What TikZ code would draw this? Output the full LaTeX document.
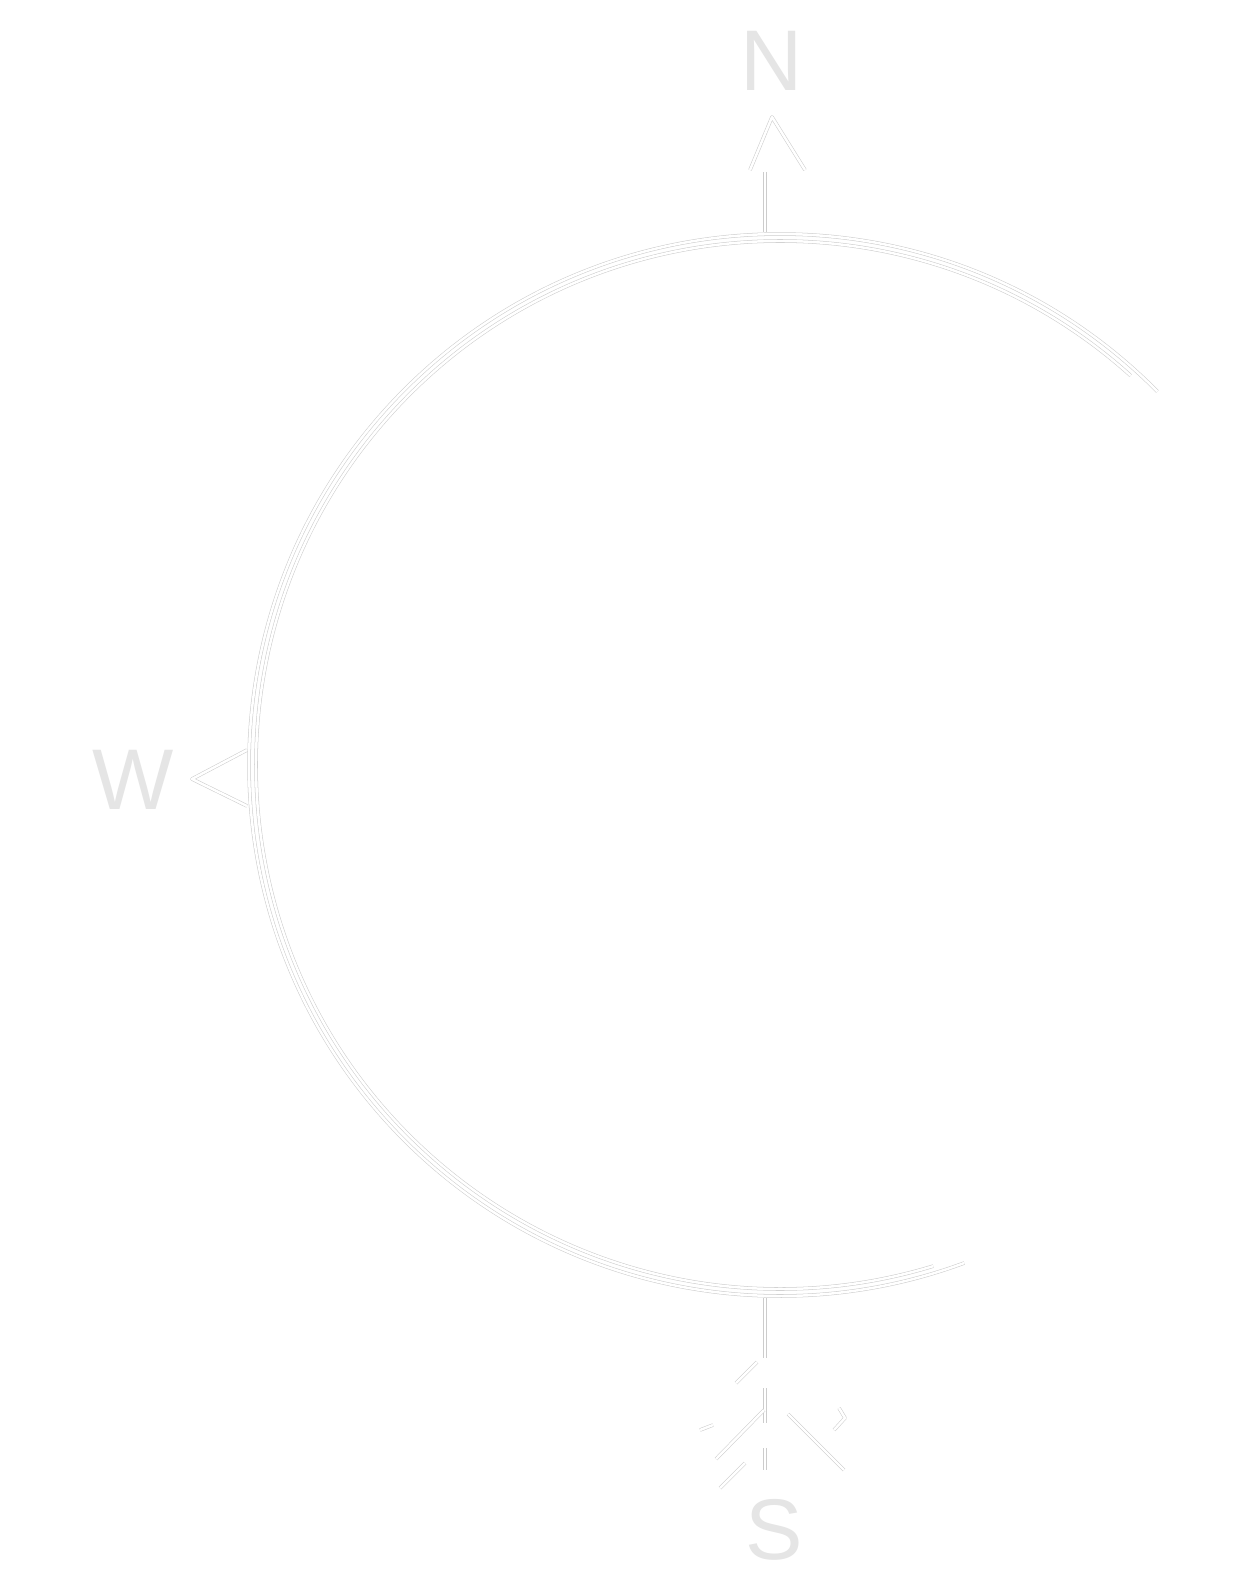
\documentclass[tikz,border=0pt]{standalone}
\usepackage{fontspec}
\setmainfont{Liberation Sans}
\begin{document}
\begin{tikzpicture}[x=0.02cm,y=-0.02cm,
  ghost/.style={draw=black!20, line width=0.3pt, double=white, double distance=1.4pt, line join=round},
  letter/.style={text=black!10, inner sep=0pt, font=\fontsize{49}{49}\selectfont}]
\fill[white] (0,0) rectangle (1252,1594);
\useasboundingbox (0,0) rectangle (1252,1594);
\coordinate (C) at (780,765);
% compass ring
\draw[ghost] (C) ++(-44.7:531) arc[start angle=-44.7, end angle=-290.3, radius=531];
\draw[ghost] (C) ++(-48:524) arc[start angle=-48, end angle=-287, radius=524];
% letters
\node[letter] (N) at (772,61) {N};
\node[letter] (W) at (133,780) {W};
\node[letter] (S) at (774,1530) {S};
% north arrow
\coordinate (Ntip) at (772,117);
\coordinate (Nl) at (750,170);
\coordinate (Nr) at (805,170);
\coordinate (Ns1) at (765,172);
\coordinate (Ns2) at (765,232);
\draw[ghost] (Nl) -- (Ntip) -- (Nr);
\draw[ghost] (Ns1) -- (Ns2);
% west arrow
\coordinate (Wu) at (247,750);
\coordinate (Wtip) at (192,779);
\coordinate (Wd) at (247,806);
\draw[ghost] (Wu) -- (Wtip) -- (Wd);
% south tail
\coordinate (Sa) at (765,1298);
\coordinate (Sb) at (765,1358);
\coordinate (Sc) at (765,1388);
\coordinate (Sd) at (765,1470);
\draw[ghost] (Sa) -- (Sb);
\draw[ghost, dash pattern=on 20pt off 14pt] (Sc) -- (Sd);
\coordinate (F1a) at (757,1362); \coordinate (F1b) at (736,1383);
\coordinate (F2a) at (764,1410); \coordinate (F2b) at (716,1459);
\coordinate (F3a) at (745,1463); \coordinate (F3b) at (720,1488);
\coordinate (F4a) at (788,1414); \coordinate (F4b) at (844,1470);
\coordinate (F5a) at (839,1408); \coordinate (F5b) at (845,1418); \coordinate (F5c) at (834,1430);
\coordinate (F6a) at (713,1425); \coordinate (F6b) at (700,1430);
\draw[ghost] (F1a) -- (F1b);
\draw[ghost] (F2a) -- (F2b);
\draw[ghost] (F3a) -- (F3b);
\draw[ghost] (F4a) -- (F4b);
\draw[ghost] (F5a) -- (F5b) -- (F5c);
\draw[ghost] (F6a) -- (F6b);
\end{tikzpicture}
\end{document}
